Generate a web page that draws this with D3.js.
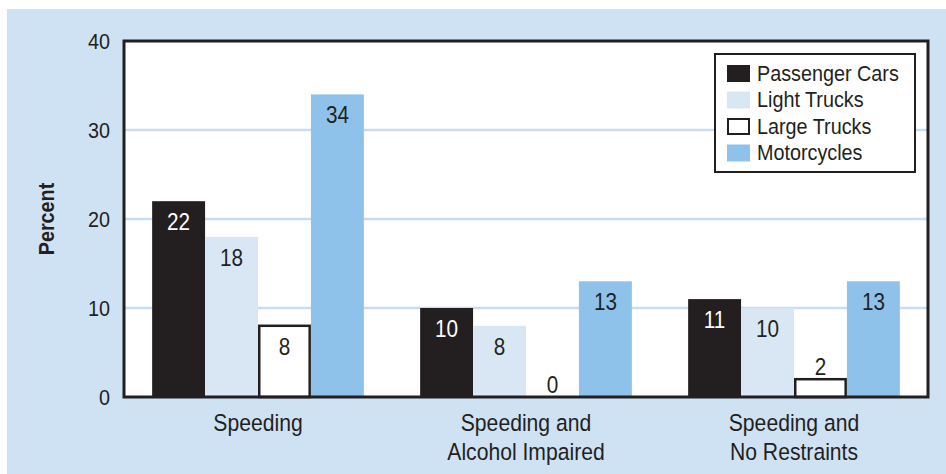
<!DOCTYPE html>
<html>
<head>
<meta charset="utf-8">
<script src="https://cdn.jsdelivr.net/npm/d3@7"></script>
<style>
  html, body { margin: 0; padding: 0; background: #ffffff; }
  svg { display: block; }
  text { font-family: "Liberation Sans", Arial, sans-serif; fill: #231f20; }
</style>
</head>
<body>
<svg id="chart" width="946" height="474"></svg>
<script>
// ---- data ----
const categories = [["Speeding"], ["Speeding and", "Alcohol Impaired"], ["Speeding and", "No Restraints"]];
const seriesNames = ["Passenger Cars", "Light Trucks", "Large Trucks", "Motorcycles"];
const passengerCars = [22, 10, 11];
const lightTrucks = [18, 8, 10];
const largeTrucks = [8, 0, 2];
const motorcycles = [34, 13, 13];
const yTicks = [0, 10, 20, 30, 40];
const yLabel = "Percent";

const seriesValues = [passengerCars, lightTrucks, largeTrucks, motorcycles];
const colors = ["#231f20", "#d9e7f5", "#ffffff", "#8fc2ea"];
const strokes = [null, null, "#231f20", null];
const labelColors = ["#ffffff", "#231f20", "#231f20", "#231f20"];
const ink = "#231f20";
const SX = 0.9; // condensed look

const svg = d3.select("#chart");
const W = 946, H = 474;
const plot = { left: 124, right: 928, top: 41, bottom: 397 };

function ctext(parent, x, y, str, size, anchor, extra) {
  const t = parent.append("text")
    .attr("transform", `translate(${x},${y}) ${extra || ""} scale(${SX},1)`)
    .attr("text-anchor", anchor || "middle")
    .attr("font-size", size)
    .text(str);
  return t;
}

// background panel
svg.append("rect").attr("x", 7).attr("y", 9).attr("width", W - 7).attr("height", H - 9).attr("fill", "#cfe2f3");

// plot area
svg.append("rect").attr("x", plot.left).attr("y", plot.top)
  .attr("width", plot.right - plot.left).attr("height", plot.bottom - plot.top).attr("fill", "#ffffff");

const catKeys = categories.map((c, i) => i);
const x0 = d3.scaleBand().domain(catKeys).range([plot.left, plot.right]).paddingInner(0.21).paddingOuter(0.105);
const x1 = d3.scaleBand().domain(seriesNames).range([0, x0.bandwidth()]).padding(0);
const y = d3.scaleLinear().domain([0, 40]).range([plot.bottom, plot.top]);

// gridlines
svg.append("g").selectAll("line").data(yTicks.filter(t => t > 0 && t < 40)).join("line")
  .attr("x1", plot.left).attr("x2", plot.right)
  .attr("y1", d => y(d)).attr("y2", d => y(d))
  .attr("stroke", "#c6ddf2").attr("stroke-width", 2.5);

// y axis labels
const yAxis = svg.append("g").attr("transform", `translate(${plot.left},0)`)
  .call(d3.axisLeft(y).tickValues(yTicks).tickSize(0).tickPadding(15.5).tickFormat(d3.format("d")));
yAxis.select(".domain").remove();
yAxis.selectAll("text")
  .attr("font-size", 22).attr("font-family", null)
  .attr("transform", `scale(${SX},1)`)
  .style("fill", ink);

// bars
const bars = [];
catKeys.forEach(ci => {
  seriesNames.forEach((s, si) => {
    bars.push({ ci, si, s, v: seriesValues[si][ci] });
  });
});

const gBars = svg.append("g");
gBars.selectAll("rect").data(bars).join("rect")
  .attr("x", d => x0(d.ci) + x1(d.s) + (strokes[d.si] ? 1.25 : 0))
  .attr("y", d => y(d.v))
  .attr("width", d => x1.bandwidth() - (strokes[d.si] ? 2.5 : 0))
  .attr("height", d => y(0) - y(d.v))
  .attr("fill", d => colors[d.si])
  .attr("stroke", d => strokes[d.si] || "none")
  .attr("stroke-width", 2.5);

// value labels
const gVals = svg.append("g");
bars.forEach(d => {
  ctext(gVals, x0(d.ci) + x1(d.s) + x1.bandwidth() / 2, d.v >= 5 ? y(d.v) + 29 : y(d.v) - 4, d.v, 23)
    .style("fill", labelColors[d.si]);
});

// frame
svg.append("path")
  .attr("d", `M${plot.left},${plot.top}H${plot.right}V${plot.bottom}H${plot.left}Z`)
  .attr("fill", "none").attr("stroke", ink).attr("stroke-width", 3);

// category labels
const gCat = svg.append("g");
categories.forEach((lines, ci) => {
  lines.forEach((ln, li) => {
    ctext(gCat, x0(ci) + x0.bandwidth() / 2, 431 + li * 29, ln, 23.5);
  });
});

// y label
ctext(svg, 54, 219, yLabel, 22, "middle", "rotate(-90)").attr("font-weight", "bold");

// legend
const lg = svg.append("g");
lg.append("rect").attr("x", 715).attr("y", 54).attr("width", 200).attr("height", 118)
  .attr("fill", "#ffffff").attr("stroke", ink).attr("stroke-width", 2);
seriesNames.forEach((s, si) => {
  const ry = 65 + si * 26.5;
  lg.append("rect")
    .attr("x", strokes[si] ? 728 : 727).attr("y", strokes[si] ? ry + 1 : ry)
    .attr("width", strokes[si] ? 21 : 23).attr("height", strokes[si] ? 15 : 17)
    .attr("fill", colors[si])
    .attr("stroke", strokes[si] || "none").attr("stroke-width", 2);
  ctext(lg, 757, ry + 15.5, s, 22, "start");
});
</script>
</body>
</html>
